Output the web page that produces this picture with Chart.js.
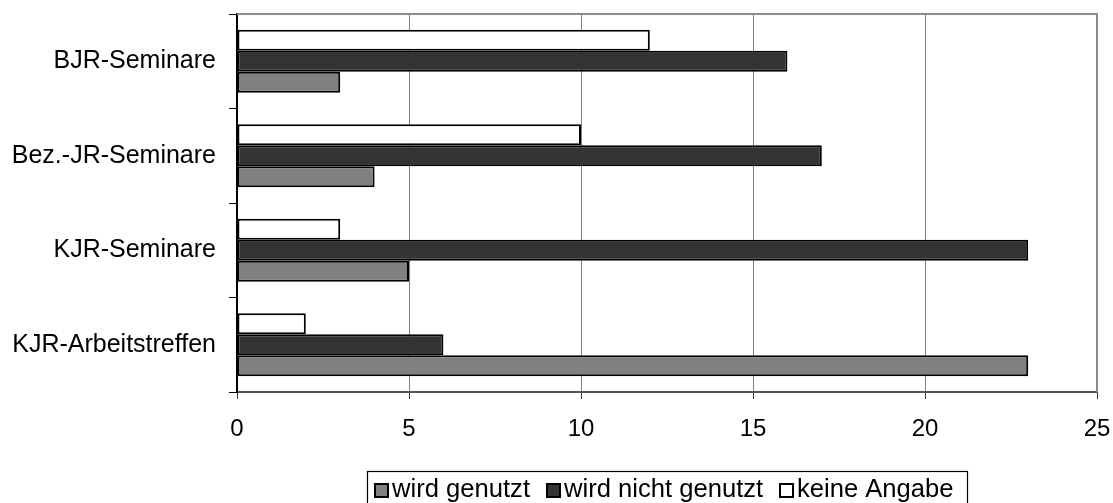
<!DOCTYPE html>
<html>
<head>
<meta charset="utf-8">
<script src="https://cdn.jsdelivr.net/npm/chart.js@4/dist/chart.umd.min.js"></script>
<style>
  html, body { margin: 0; padding: 0; background: #fff; }
  #wrap { width: 1113px; height: 503px; }
</style>
</head>
<body>
<div id="wrap"><canvas id="c" width="1113" height="503"></canvas></div>
<script>
// Categories listed bottom to top (the y axis is reversed)
const categories = ['KJR-Arbeitstreffen', 'KJR-Seminare', 'Bez.-JR-Seminare', 'BJR-Seminare'];
const seriesNames = ['wird genutzt', 'wird nicht genutzt', 'keine Angabe'];
const genutzt = [23, 5, 4, 3];
const nichtGenutzt = [6, 23, 17, 16];
const keineAngabe = [2, 3, 10, 12];
const xTicks = [0, 5, 10, 15, 20, 25];

const fills = ['#808080', '#333333', '#ffffff'];
const FONT = '"Liberation Sans", Arial, sans-serif';

// Frame lines on top/right of the plot plus the boxed legend below
const framePlugin = {
  id: 'frame',
  afterDraw(chart) {
    const { ctx, chartArea: a } = chart;
    ctx.save();
    ctx.strokeStyle = '#8c8c8c';
    ctx.lineWidth = 2;
    ctx.beginPath();
    ctx.moveTo(a.left, a.top);
    ctx.lineTo(a.right, a.top);
    ctx.lineTo(a.right, a.bottom);
    ctx.stroke();

    // legend, in series order
    ctx.font = '25.6px ' + FONT;
    ctx.textBaseline = 'alphabetic';
    const box = 15;
    const itemX = [374, 546, 779];
    const baseY = 497;
    seriesNames.forEach((name, i) => {
      const x = itemX[i];
      ctx.fillStyle = fills[i];
      ctx.fillRect(x, baseY - 14, box, box);
      ctx.strokeStyle = '#000';
      ctx.lineWidth = 2;
      ctx.strokeRect(x + 1, baseY - 13, box - 2, box - 2);
      ctx.fillStyle = '#000';
      ctx.fillText(name, x + box + 3, baseY);
    });
    ctx.strokeStyle = '#000';
    ctx.lineWidth = 1.2;
    ctx.strokeRect(367.5, 471.5, 600, 40);
    ctx.restore();
  }
};

// Datasets stacked top-to-bottom inside each category: keine Angabe, nicht genutzt, genutzt
const barStyle = {
  borderColor: '#000',
  borderWidth: 2,
  borderSkipped: false,
  categoryPercentage: 0.667,
  barPercentage: 1
};

function noEdgePadding(s) {
  s.paddingTop = 0;
  s.paddingBottom = 0;
  s.paddingLeft = 0;
  s.paddingRight = 0;
}

new Chart(document.getElementById('c'), {
  type: 'bar',
  data: {
    labels: categories,
    datasets: [
      Object.assign({ label: seriesNames[2], data: keineAngabe, backgroundColor: fills[2] }, barStyle),
      Object.assign({ label: seriesNames[1], data: nichtGenutzt, backgroundColor: fills[1] }, barStyle),
      Object.assign({ label: seriesNames[0], data: genutzt, backgroundColor: fills[0] }, barStyle)
    ]
  },
  options: {
    indexAxis: 'y',
    responsive: false,
    animation: false,
    layout: { padding: { top: 14, right: 16, bottom: 0, left: 0 } },
    plugins: { legend: { display: false }, tooltip: { enabled: false } },
    scales: {
      x: {
        min: 0,
        max: 25,
        afterBuildTicks(s) { s.ticks = xTicks.map(v => ({ value: v })); },
        afterFit(s) { s.height = 111; noEdgePadding(s); },
        grid: { color: '#808080', lineWidth: 1, tickLength: 7, tickColor: '#333' },
        border: { color: '#555', width: 2 },
        ticks: { color: '#000', font: { family: FONT, size: 24 }, padding: 16, maxRotation: 0 }
      },
      y: {
        reverse: true,
        afterFit(s) { s.width = 237; noEdgePadding(s); },
        grid: { drawOnChartArea: false, offset: true, tickLength: 8, color: '#000', lineWidth: 1 },
        border: { color: '#000', width: 2 },
        ticks: { color: '#000', font: { family: FONT, size: 25 }, padding: 13 }
      }
    }
  },
  plugins: [framePlugin]
});
</script>
</body>
</html>
